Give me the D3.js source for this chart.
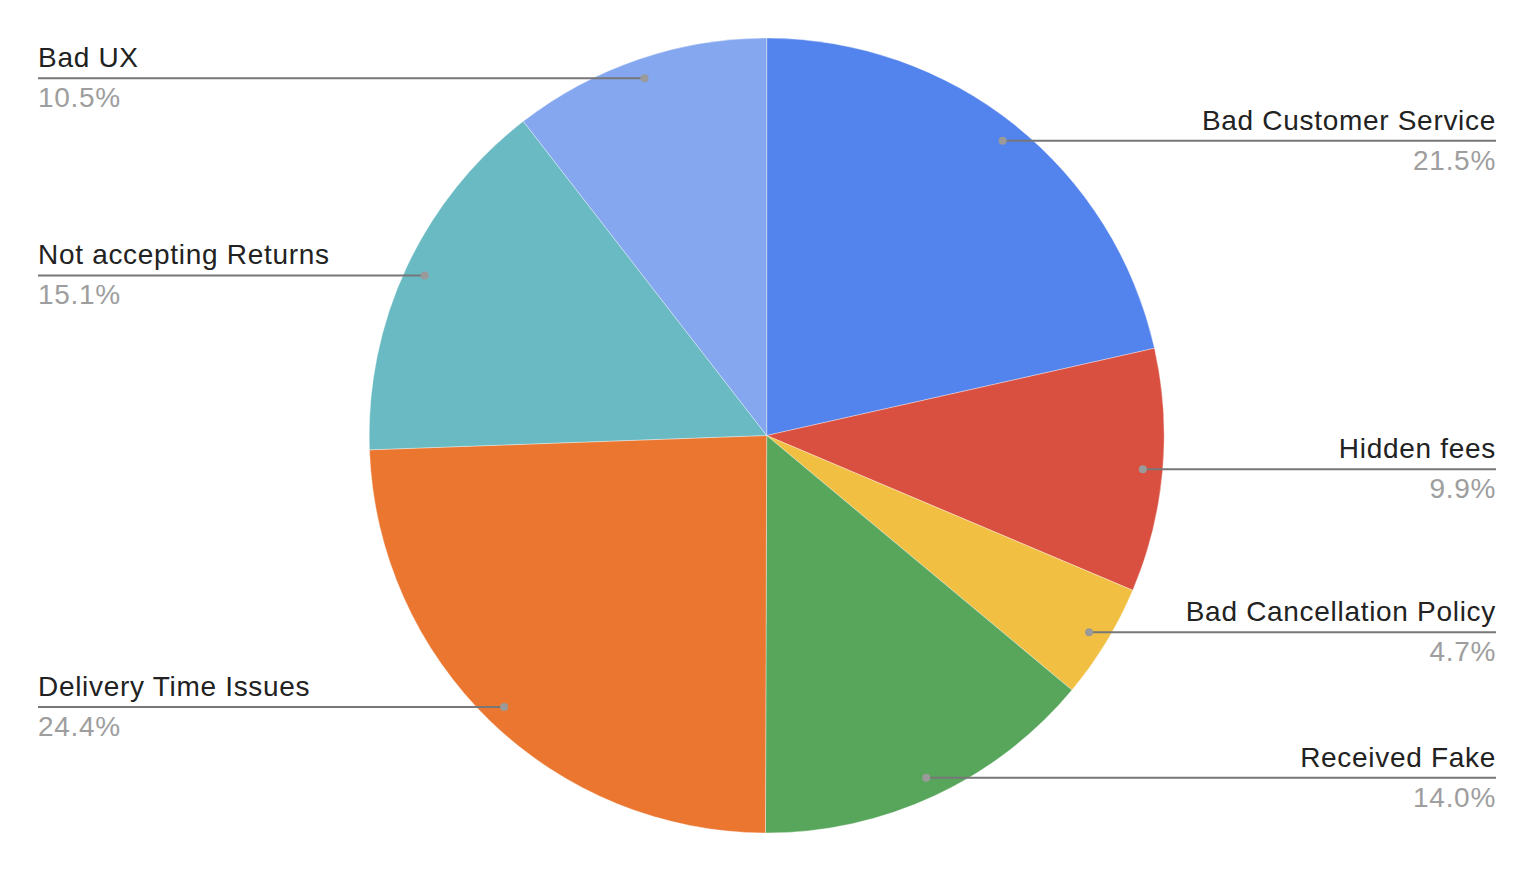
<!DOCTYPE html>
<html><head><meta charset="utf-8">
<script src="https://cdn.jsdelivr.net/npm/d3@7"></script>
<style>html,body{margin:0;padding:0;background:#fff;}svg{display:block;}</style>
</head><body>
<svg id="chart" width="1528" height="870"></svg>
<script>
const categories = ["Bad Customer Service","Hidden fees","Bad Cancellation Policy","Received Fake","Delivery Time Issues","Not accepting Returns","Bad UX"];
const values = [21.5, 9.9, 4.7, 14.0, 24.4, 15.1, 10.5];
const pctLabels = ["21.5%","9.9%","4.7%","14.0%","24.4%","15.1%","10.5%"];
const colors = ["#5383EC","#DA5040","#F1BF42","#58A65C","#EB7630","#69BAC2","#85A7EF"];

const W = 1528, H = 870;
const cx = 766.7, cy = 435.5, r = 397.5;
const leftX = 38, rightX = 1496;
const font = "'Liberation Sans', Arial, sans-serif";

const svg = d3.select("#chart");
const data = categories.map((c,i)=>({name:c, value:values[i], pct:pctLabels[i], color:colors[i]}));
const pie = d3.pie().value(d=>d.value).sort(null);
const arcs = pie(data);
const arc = d3.arc().innerRadius(0).outerRadius(r);
const g = svg.append("g").attr("transform",`translate(${cx},${cy})`);
g.selectAll("path").data(arcs).join("path")
  .attr("d",arc).attr("fill",d=>d.data.color)
  .attr("stroke","rgba(255,255,255,0.35)").attr("stroke-width",1);

const lab = svg.append("g");
arcs.forEach(a=>{
  const ang = (a.startAngle + a.endAngle)/2;
  const px = cx + 0.95*r*Math.sin(ang);
  const py = cy - 0.95*r*Math.cos(ang);
  const right = Math.sin(ang) > 0;
  const tx = right ? rightX : leftX;
  const anchor = right ? "end" : "start";
  lab.append("line").attr("x1",px).attr("y1",py).attr("x2",tx).attr("y2",py)
    .attr("stroke","#777").attr("stroke-width",2);
  lab.append("circle").attr("cx",px).attr("cy",py).attr("r",4).attr("fill","#9a9a9a");
  lab.append("text").attr("x",tx).attr("y",py-11).attr("text-anchor",anchor)
    .attr("font-family",font).attr("font-size",28).attr("letter-spacing","0.7px")
    .attr("fill","#222").text(a.data.name);
  lab.append("text").attr("x",tx).attr("y",py+29).attr("text-anchor",anchor)
    .attr("font-family",font).attr("font-size",28).attr("letter-spacing","0.7px")
    .attr("fill","#9e9e9e").text(a.data.pct);
});
</script>
</body></html>
